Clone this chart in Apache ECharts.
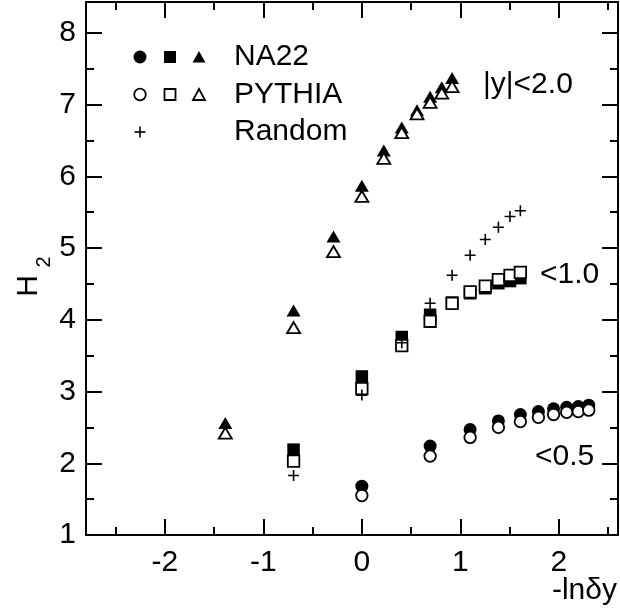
<!DOCTYPE html>
<html>
<head>
<meta charset="utf-8">
<script src="https://cdn.jsdelivr.net/npm/echarts@6/dist/echarts.min.js"></script>
<style>
html,body{margin:0;padding:0;background:#fff;}
#chart{width:620px;height:613px;}
</style>
</head>
<body>
<div id="chart"></div>
<script>
// ---- data ----
const xTriangle = [-1.386, -0.693, -0.288, 0, 0.223, 0.405, 0.560, 0.693, 0.811, 0.916];   // |y|<2.0
const na22Triangle = [2.56, 4.13, 5.16, 5.87, 6.36, 6.68, 6.92, 7.11, 7.24, 7.37];
const pythiaTriangle = [2.42, 3.89, 4.95, 5.72, 6.25, 6.61, 6.87, 7.03, 7.16, 7.25];

const xSquare = [-0.693, 0, 0.405, 0.693, 0.916, 1.099, 1.253, 1.386, 1.504, 1.609];      // |y|<1.0
const na22Square = [2.19, 3.21, 3.76, 4.07, 4.24, 4.37, 4.44, 4.51, 4.54, 4.58];
const pythiaSquare = [2.03, 3.04, 3.64, 3.98, 4.23, 4.39, 4.47, 4.56, 4.62, 4.66];
const randomSquare = [1.83, 2.95, 3.68, 4.23, 4.62, 4.90, 5.12, 5.29, 5.44, 5.52];

const xCircle = [0, 0.693, 1.099, 1.386, 1.609, 1.792, 1.946, 2.079, 2.197, 2.303];       // |y|<0.5
const na22Circle = [1.68, 2.24, 2.47, 2.59, 2.68, 2.72, 2.76, 2.78, 2.79, 2.81];
const pythiaCircle = [1.55, 2.10, 2.36, 2.50, 2.58, 2.64, 2.68, 2.71, 2.72, 2.74];

const xMajorTicks = [-2, -1, 0, 1, 2];
const xMinorTicks = [-2.5, -1.5, -0.5, 0.5, 1.5, 2.5];
const yMajorTicks = [1, 2, 3, 4, 5, 6, 7, 8];
const yMinorTicks = [1.5, 2.5, 3.5, 4.5, 5.5, 6.5, 7.5];

const rangeLabels = ['|y|<2.0', '<1.0', '<0.5'];
const legendLabels = ['NA22', 'PYTHIA', 'Random'];
const xTitle = '-lnδy';
const yTitle = ['H', '2'];

// ---- chart ----
const FONT = 'Liberation Sans, Arial, Helvetica, sans-serif';
const zip = (xs, ys) => xs.map((x, i) => [x, ys[i]]);
const X_MIN = -2.8, X_MAX = 2.6, Y_MIN = 1, Y_MAX = 8.43;

function xAxisDef(pos, ticks, len, showLine, labels) {
  return {
    type: 'value', position: pos, min: X_MIN, max: X_MAX,
    axisLine: {show: showLine, onZero: false, lineStyle: {color: '#000', width: 2}},
    axisTick: {show: true, inside: true, length: len, customValues: ticks, lineStyle: {color: '#000', width: 2}},
    axisLabel: labels ? {show: true, customValues: ticks, margin: 13, color: '#000', fontSize: 30, fontFamily: FONT} : {show: false},
    splitLine: {show: false}, minorTick: {show: false}
  };
}
function yAxisDef(pos, ticks, len, showLine, labels) {
  return {
    type: 'value', position: pos, min: Y_MIN, max: Y_MAX,
    axisLine: {show: showLine, onZero: false, lineStyle: {color: '#000', width: 2}},
    axisTick: {show: true, inside: true, length: len, customValues: ticks, lineStyle: {color: '#000', width: 2}},
    axisLabel: labels ? {show: true, customValues: ticks, margin: 10, color: '#000', fontSize: 30, fontFamily: FONT} : {show: false},
    splitLine: {show: false}, minorTick: {show: false}
  };
}

const filled = {color: '#000', opacity: 1};
const open = {color: '#fff', borderColor: '#000', borderWidth: 1.8, opacity: 1};
const CROSS = 'path://M0,5L10,5M5,0L5,10';

const chart = echarts.init(document.getElementById('chart'));
chart.setOption({
  animation: false,
  backgroundColor: '#fff',
  grid: {left: 86, right: 2, top: 2, bottom: 78, containLabel: false},
  xAxis: [
    xAxisDef('bottom', xMajorTicks, 16, true, true),
    xAxisDef('bottom', xMinorTicks, 8, false, false),
    xAxisDef('top', xMajorTicks, 16, true, false),
    xAxisDef('top', xMinorTicks, 8, false, false)
  ],
  yAxis: [
    yAxisDef('left', yMajorTicks, 16, true, true),
    yAxisDef('left', yMinorTicks, 8, false, false),
    yAxisDef('right', yMajorTicks, 16, true, false),
    yAxisDef('right', yMinorTicks, 8, false, false)
  ],
  series: [
    {type: 'scatter', name: 'NA22 |y|<2.0', data: zip(xTriangle, na22Triangle), symbol: 'triangle', symbolSize: [14, 12], itemStyle: filled, z: 2},
    {type: 'scatter', name: 'NA22 |y|<1.0', data: zip(xSquare, na22Square), symbol: 'rect', symbolSize: 12.5, itemStyle: filled, z: 2},
    {type: 'scatter', name: 'NA22 |y|<0.5', data: zip(xCircle, na22Circle), symbol: 'circle', symbolSize: 13, itemStyle: filled, z: 2},
    {type: 'scatter', name: 'PYTHIA |y|<2.0', data: zip(xTriangle, pythiaTriangle), symbol: 'triangle', symbolSize: [13, 11], itemStyle: open, z: 3},
    {type: 'scatter', name: 'PYTHIA |y|<1.0', data: zip(xSquare, pythiaSquare), symbol: 'rect', symbolSize: 11.5, itemStyle: open, z: 3},
    {type: 'scatter', name: 'PYTHIA |y|<0.5', data: zip(xCircle, pythiaCircle), symbol: 'circle', symbolSize: 11.5, itemStyle: open, z: 3},
    {type: 'scatter', name: 'Random', data: zip(xSquare, randomSquare), symbol: CROSS, symbolSize: 11, itemStyle: {color: 'rgba(0,0,0,0)', borderColor: '#000', borderWidth: 1.6, opacity: 1}, z: 4}
  ],
  graphic: [
    // range labels
    {type: 'text', x: 483, y: 85, style: {text: rangeLabels[0], fill: '#000', font: '30px ' + FONT, textAlign: 'left', textVerticalAlign: 'middle'}},
    {type: 'text', x: 540, y: 275, style: {text: rangeLabels[1], fill: '#000', font: '30px ' + FONT, textAlign: 'left', textVerticalAlign: 'middle'}},
    {type: 'text', x: 535, y: 457, style: {text: rangeLabels[2], fill: '#000', font: '30px ' + FONT, textAlign: 'left', textVerticalAlign: 'middle'}},
    // legend symbols
    {type: 'circle', shape: {cx: 140, cy: 57, r: 6.5}, style: {fill: '#000'}},
    {type: 'rect', shape: {x: 164, y: 51, width: 12, height: 12}, style: {fill: '#000'}},
    {type: 'polygon', shape: {points: [[199, 51], [192.5, 62.5], [205.5, 62.5]]}, style: {fill: '#000'}},
    {type: 'circle', shape: {cx: 140, cy: 94.5, r: 5.8}, style: {fill: '#fff', stroke: '#000', lineWidth: 1.8}},
    {type: 'rect', shape: {x: 164.5, y: 89, width: 11, height: 11}, style: {fill: '#fff', stroke: '#000', lineWidth: 1.8}},
    {type: 'polygon', shape: {points: [[199, 89], [193, 100], [205, 100]]}, style: {fill: '#fff', stroke: '#000', lineWidth: 1.8}},
    {type: 'line', shape: {x1: 134.5, y1: 132, x2: 145.5, y2: 132}, style: {stroke: '#000', lineWidth: 1.6}},
    {type: 'line', shape: {x1: 140, y1: 126.5, x2: 140, y2: 137.5}, style: {stroke: '#000', lineWidth: 1.6}},
    // legend texts
    {type: 'text', x: 234, y: 57, style: {text: legendLabels[0], fill: '#000', font: '30px ' + FONT, textAlign: 'left', textVerticalAlign: 'middle'}},
    {type: 'text', x: 234, y: 94.5, style: {text: legendLabels[1], fill: '#000', font: '30px ' + FONT, textAlign: 'left', textVerticalAlign: 'middle'}},
    {type: 'text', x: 234, y: 132, style: {text: legendLabels[2], fill: '#000', font: '30px ' + FONT, textAlign: 'left', textVerticalAlign: 'middle'}},
    // axis titles
    {type: 'text', x: 617, y: 591, style: {text: xTitle, fill: '#000', font: '30px ' + FONT, textAlign: 'right', textVerticalAlign: 'middle'}},
    {type: 'text', x: 29, y: 286, rotation: Math.PI / 2, style: {text: yTitle[0], fill: '#000', font: '30px ' + FONT, textAlign: 'center', textVerticalAlign: 'middle'}},
    {type: 'text', x: 44, y: 262, rotation: Math.PI / 2, style: {text: yTitle[1], fill: '#000', font: '20px ' + FONT, textAlign: 'center', textVerticalAlign: 'middle'}}
  ]
});
</script>
</body>
</html>
